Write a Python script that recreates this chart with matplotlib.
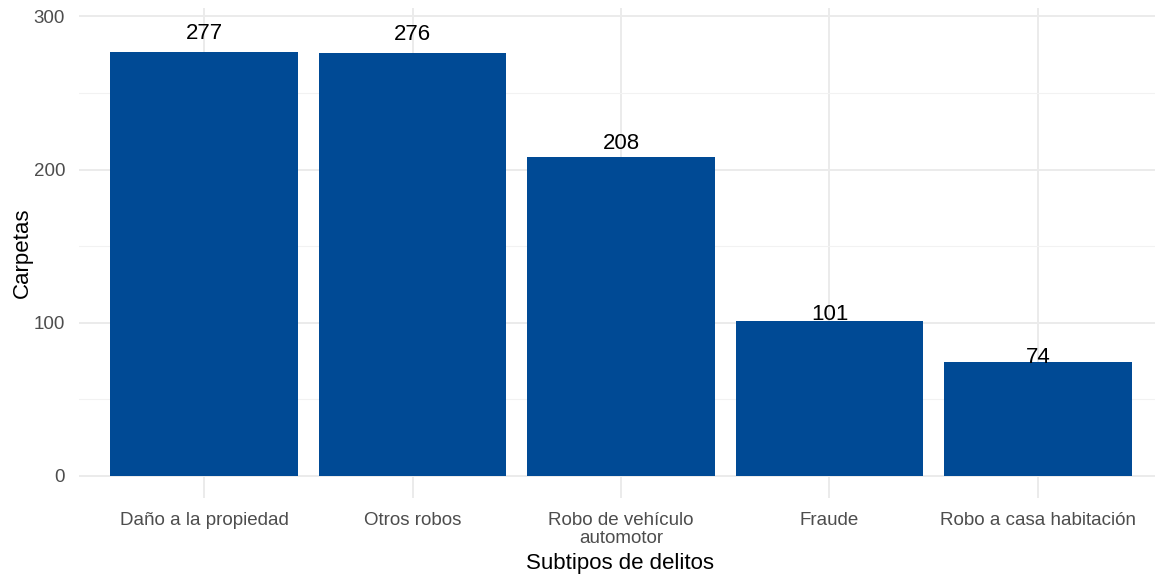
import matplotlib
matplotlib.use("Agg")
import matplotlib.pyplot as plt
from matplotlib.ticker import MultipleLocator

categorias = ["Daño a la propiedad", "Otros robos", "Robo de vehículo\nautomotor",
              "Fraude", "Robo a casa habitación"]
carpetas = [277, 276, 208, 101, 74]

W, H = 1155, 577
fig = plt.figure(figsize=(W / 100, H / 100), dpi=100)
plt.rcParams["font.family"] = ["Liberation Sans", "DejaVu Sans"]

# panel in pixels: x 79..1163, y 8..498
ax = fig.add_axes([79 / W, 1 - 498 / H, (1163 - 79) / W, (498 - 8) / H])
x = range(len(categorias))
ax.bar(x, carpetas, width=0.9, color="#004A95", zorder=2)
for xi, v in zip(x, carpetas):
    ax.text(xi, v * 1.043, str(v), ha="center", va="center", fontsize=16, color="black", zorder=3)

ax.set_xlim(-0.6, len(categorias) - 0.4)
ax.set_ylim(-14.5, 305.5)
ax.set_xticks(list(x))
ax.set_xticklabels(categorias, fontsize=13.5, color="#4D4D4D", linespacing=1.05)
ax.yaxis.set_major_locator(MultipleLocator(100))
ax.yaxis.set_minor_locator(MultipleLocator(50))
ax.tick_params(axis="both", length=0, which="both")
ax.tick_params(axis="y", labelsize=13.5, labelcolor="#4D4D4D", pad=10)
ax.tick_params(axis="x", pad=10)
ax.grid(True, which="major", color="#EBEBEB", linewidth=1.4, zorder=0)
ax.grid(True, which="minor", axis="y", color="#F2F2F2", linewidth=0.8, zorder=0)
ax.set_axisbelow(True)
for s in ax.spines.values():
    s.set_visible(False)

ax.set_xlabel("Subtipos de delitos", fontsize=16)
ax.set_ylabel("Carpetas", fontsize=16)
ax.xaxis.set_label_coords((620 - 79) / (1163 - 79), -(563 - 498) / (498 - 8))
ax.xaxis.label.set_va("center")
ax.yaxis.set_label_coords(-(79 - 22) / (1163 - 79), (498 - 253) / (498 - 8))
ax.yaxis.label.set_va("center")

fig.savefig("out.png", dpi=100)
